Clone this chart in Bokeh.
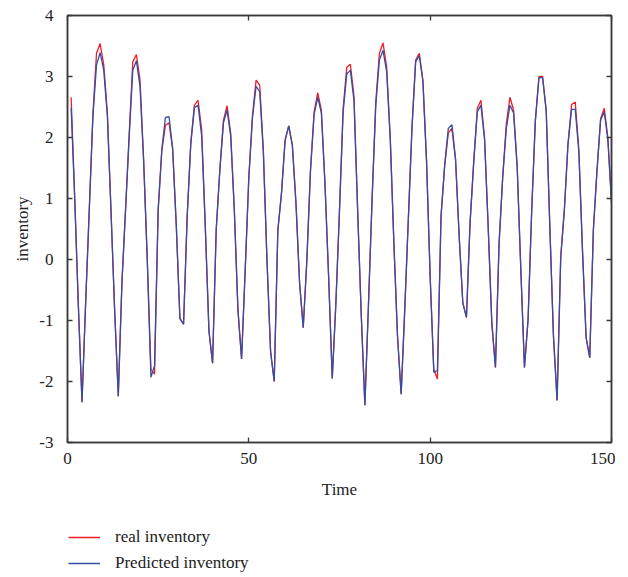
from bokeh.plotting import figure
from bokeh.layouts import column
from bokeh.models import (Legend, LegendItem, LinearAxis, Range1d, FixedTicker,
                          ColumnDataSource, CustomJSTickFormatter)
from bokeh.embed import file_html
from bokeh.resources import INLINE

time = list(range(1, 151))
real_inventory = [
    2.66, 1.00, -0.75, -2.34, -0.71, 0.82, 2.38, 3.38, 3.54, 3.19,
    2.40, 0.80, -0.82, -2.24, -0.38, 0.82, 2.05, 3.24, 3.36, 2.94,
    1.63, 0.00, -1.80, -1.88, 0.82, 1.78, 2.20, 2.24, 1.80, 0.54,
    -0.97, -1.06, 0.71, 1.92, 2.53, 2.61, 2.12, 0.54, -1.17, -1.70,
    0.49, 1.47, 2.28, 2.52, 2.07, 0.82, -0.82, -1.63, -0.16, 1.36,
    2.36, 2.94, 2.86, 1.80, 0.00, -1.50, -2.00, 0.49, 1.09, 1.96,
    2.19, 1.88, 0.93, -0.38, -1.12, 0.00, 1.47, 2.42, 2.73, 2.45,
    1.25, -0.27, -1.95, -0.71, 0.82, 2.47, 3.15, 3.20, 2.67, 0.82,
    -0.90, -2.39, -0.71, 1.03, 2.58, 3.38, 3.55, 3.16, 2.00, 0.27,
    -1.25, -2.21, -0.80, 0.70, 2.20, 3.27, 3.38, 2.94, 1.63, -0.27,
    -1.80, -1.96, 0.71, 1.53, 2.07, 2.15, 1.63, 0.38, -0.71, -0.95,
    0.60, 1.60, 2.48, 2.61, 2.00, 0.54, -1.03, -1.77, 0.27, 1.36,
    2.23, 2.66, 2.45, 1.53, -0.16, -1.77, -0.98, 0.82, 2.29, 3.00,
    3.00, 2.45, 0.54, -1.25, -2.31, 0.05, 0.82, 1.90, 2.54, 2.58,
    1.80, 0.16, -1.28, -1.61, 0.49, 1.47, 2.31, 2.48, 2.00, 0.95,
]
predicted_inventory = [
    2.49, 0.98, -0.78, -2.34, -0.72, 0.80, 2.33, 3.19, 3.39, 3.10,
    2.34, 0.78, -0.84, -2.24, -0.40, 0.80, 2.00, 3.10, 3.26, 2.83,
    1.60, -0.02, -1.93, -1.74, 0.80, 1.80, 2.33, 2.34, 1.82, 0.56,
    -0.97, -1.06, 0.70, 1.90, 2.49, 2.53, 2.02, 0.52, -1.17, -1.70,
    0.48, 1.45, 2.24, 2.45, 2.02, 0.80, -0.84, -1.63, -0.18, 1.34,
    2.32, 2.84, 2.75, 1.76, -0.02, -1.52, -2.00, 0.47, 1.08, 1.95,
    2.19, 1.87, 0.91, -0.40, -1.12, -0.02, 1.45, 2.38, 2.66, 2.40,
    1.22, -0.29, -1.95, -0.73, 0.80, 2.42, 3.04, 3.10, 2.60, 0.80,
    -0.92, -2.39, -0.73, 1.00, 2.52, 3.27, 3.43, 3.08, 1.96, 0.25,
    -1.27, -2.21, -0.82, 0.68, 2.16, 3.24, 3.34, 2.92, 1.60, -0.29,
    -1.85, -1.82, 0.72, 1.55, 2.15, 2.21, 1.65, 0.38, -0.71, -0.95,
    0.60, 1.58, 2.42, 2.53, 1.96, 0.52, -1.05, -1.77, 0.25, 1.34,
    2.15, 2.53, 2.40, 1.50, -0.18, -1.77, -0.98, 0.80, 2.26, 2.98,
    2.98, 2.42, 0.52, -1.27, -2.31, 0.03, 0.80, 1.88, 2.46, 2.46,
    1.76, 0.14, -1.28, -1.61, 0.48, 1.45, 2.29, 2.42, 1.96, 0.93,
]
x_ticks = [0, 50, 100, 150]
y_ticks = [-3, -2, -1, 0, 1, 2, 3, 4]
series_labels = ["real inventory", "Predicted inventory"]

FONT = "Liberation Serif"
FRAME = "#3a3a3a"
RED = "#ee1c25"
BLUE = "#2f4fa8"

src = ColumnDataSource(dict(t=time, real=real_inventory, pred=predicted_inventory))

p = figure(width=615, height=501, x_range=Range1d(0, 150), y_range=Range1d(-3, 4),
           output_backend="svg", toolbar_location=None,
           min_border_left=67, min_border_top=15, min_border_right=4,
           min_border_bottom=10)
p.grid.visible = False
p.outline_line_color = FRAME
p.outline_line_width = 1.5
p.background_fill_color = "white"
p.border_fill_color = "white"

p.line("t", "real", source=src, line_color=RED, line_width=1.3)
p.line("t", "pred", source=src, line_color=BLUE, line_width=1.3)

def style_axis(ax, ticks):
    ax.ticker = FixedTicker(ticks=ticks)
    ax.minor_tick_line_color = None
    ax.major_tick_in = 5
    ax.major_tick_out = 0
    ax.major_tick_line_color = FRAME
    ax.major_tick_line_width = 1.3
    ax.axis_line_color = FRAME
    ax.axis_line_width = 1.5
    ax.major_label_text_font = FONT
    ax.major_label_text_font_size = "17px"
    ax.major_label_text_color = "#222222"
    ax.axis_label_text_font = FONT
    ax.axis_label_text_font_size = "17px"
    ax.axis_label_text_font_style = "normal"
    ax.axis_label_text_color = "#222222"

plain = CustomJSTickFormatter(code="return tick.toString();")
style_axis(p.xaxis[0], x_ticks)
style_axis(p.yaxis[0], y_ticks)
p.yaxis[0].formatter = plain
p.xaxis[0].formatter = plain
p.xaxis[0].axis_label = "Time"
p.yaxis[0].axis_label = "inventory"
p.xaxis[0].major_label_standoff = 10
p.xaxis[0].axis_label_standoff = 13
p.yaxis[0].major_label_standoff = 14
p.yaxis[0].axis_label_standoff = 4

blank = CustomJSTickFormatter(code="return '';")
top_ax = LinearAxis(formatter=blank)
style_axis(top_ax, x_ticks)
top_ax.major_label_standoff = 0
top_ax.major_label_text_font_size = "1px"
right_ax = LinearAxis(formatter=blank)
style_axis(right_ax, y_ticks)
right_ax.major_label_standoff = 0
right_ax.major_label_text_font_size = "1px"
p.add_layout(top_ax, "above")
p.add_layout(right_ax, "right")

# legend panel below the chart; its ranges keep the series out of view
lg = figure(width=615, height=74, x_range=Range1d(1000, 1001), y_range=Range1d(1000, 1001),
            output_backend="svg", toolbar_location=None,
            min_border=0, min_border_left=67, min_border_right=4,
            min_border_top=0, min_border_bottom=0)
lg.axis.visible = False
lg.grid.visible = False
lg.outline_line_color = None
k1 = lg.line("t", "real", source=src, line_color=RED, line_width=1.6)
k2 = lg.line("t", "pred", source=src, line_color=BLUE, line_width=1.6)
legend = Legend(items=[LegendItem(label=series_labels[0], renderers=[k1]),
                       LegendItem(label=series_labels[1], renderers=[k2])],
                location=(1, 2), orientation="vertical")
legend.label_text_font = FONT
legend.label_text_font_size = "17px"
legend.label_text_color = "#222222"
legend.glyph_width = 32
legend.glyph_height = 20
legend.label_height = 20
legend.label_standoff = 15
legend.spacing = 6
legend.padding = 0
legend.margin = 0
legend.border_line_color = None
legend.background_fill_alpha = 0
lg.add_layout(legend, "center")

layout = column(p, lg, spacing=0)
open("out.html", "w").write(file_html(layout, INLINE))
